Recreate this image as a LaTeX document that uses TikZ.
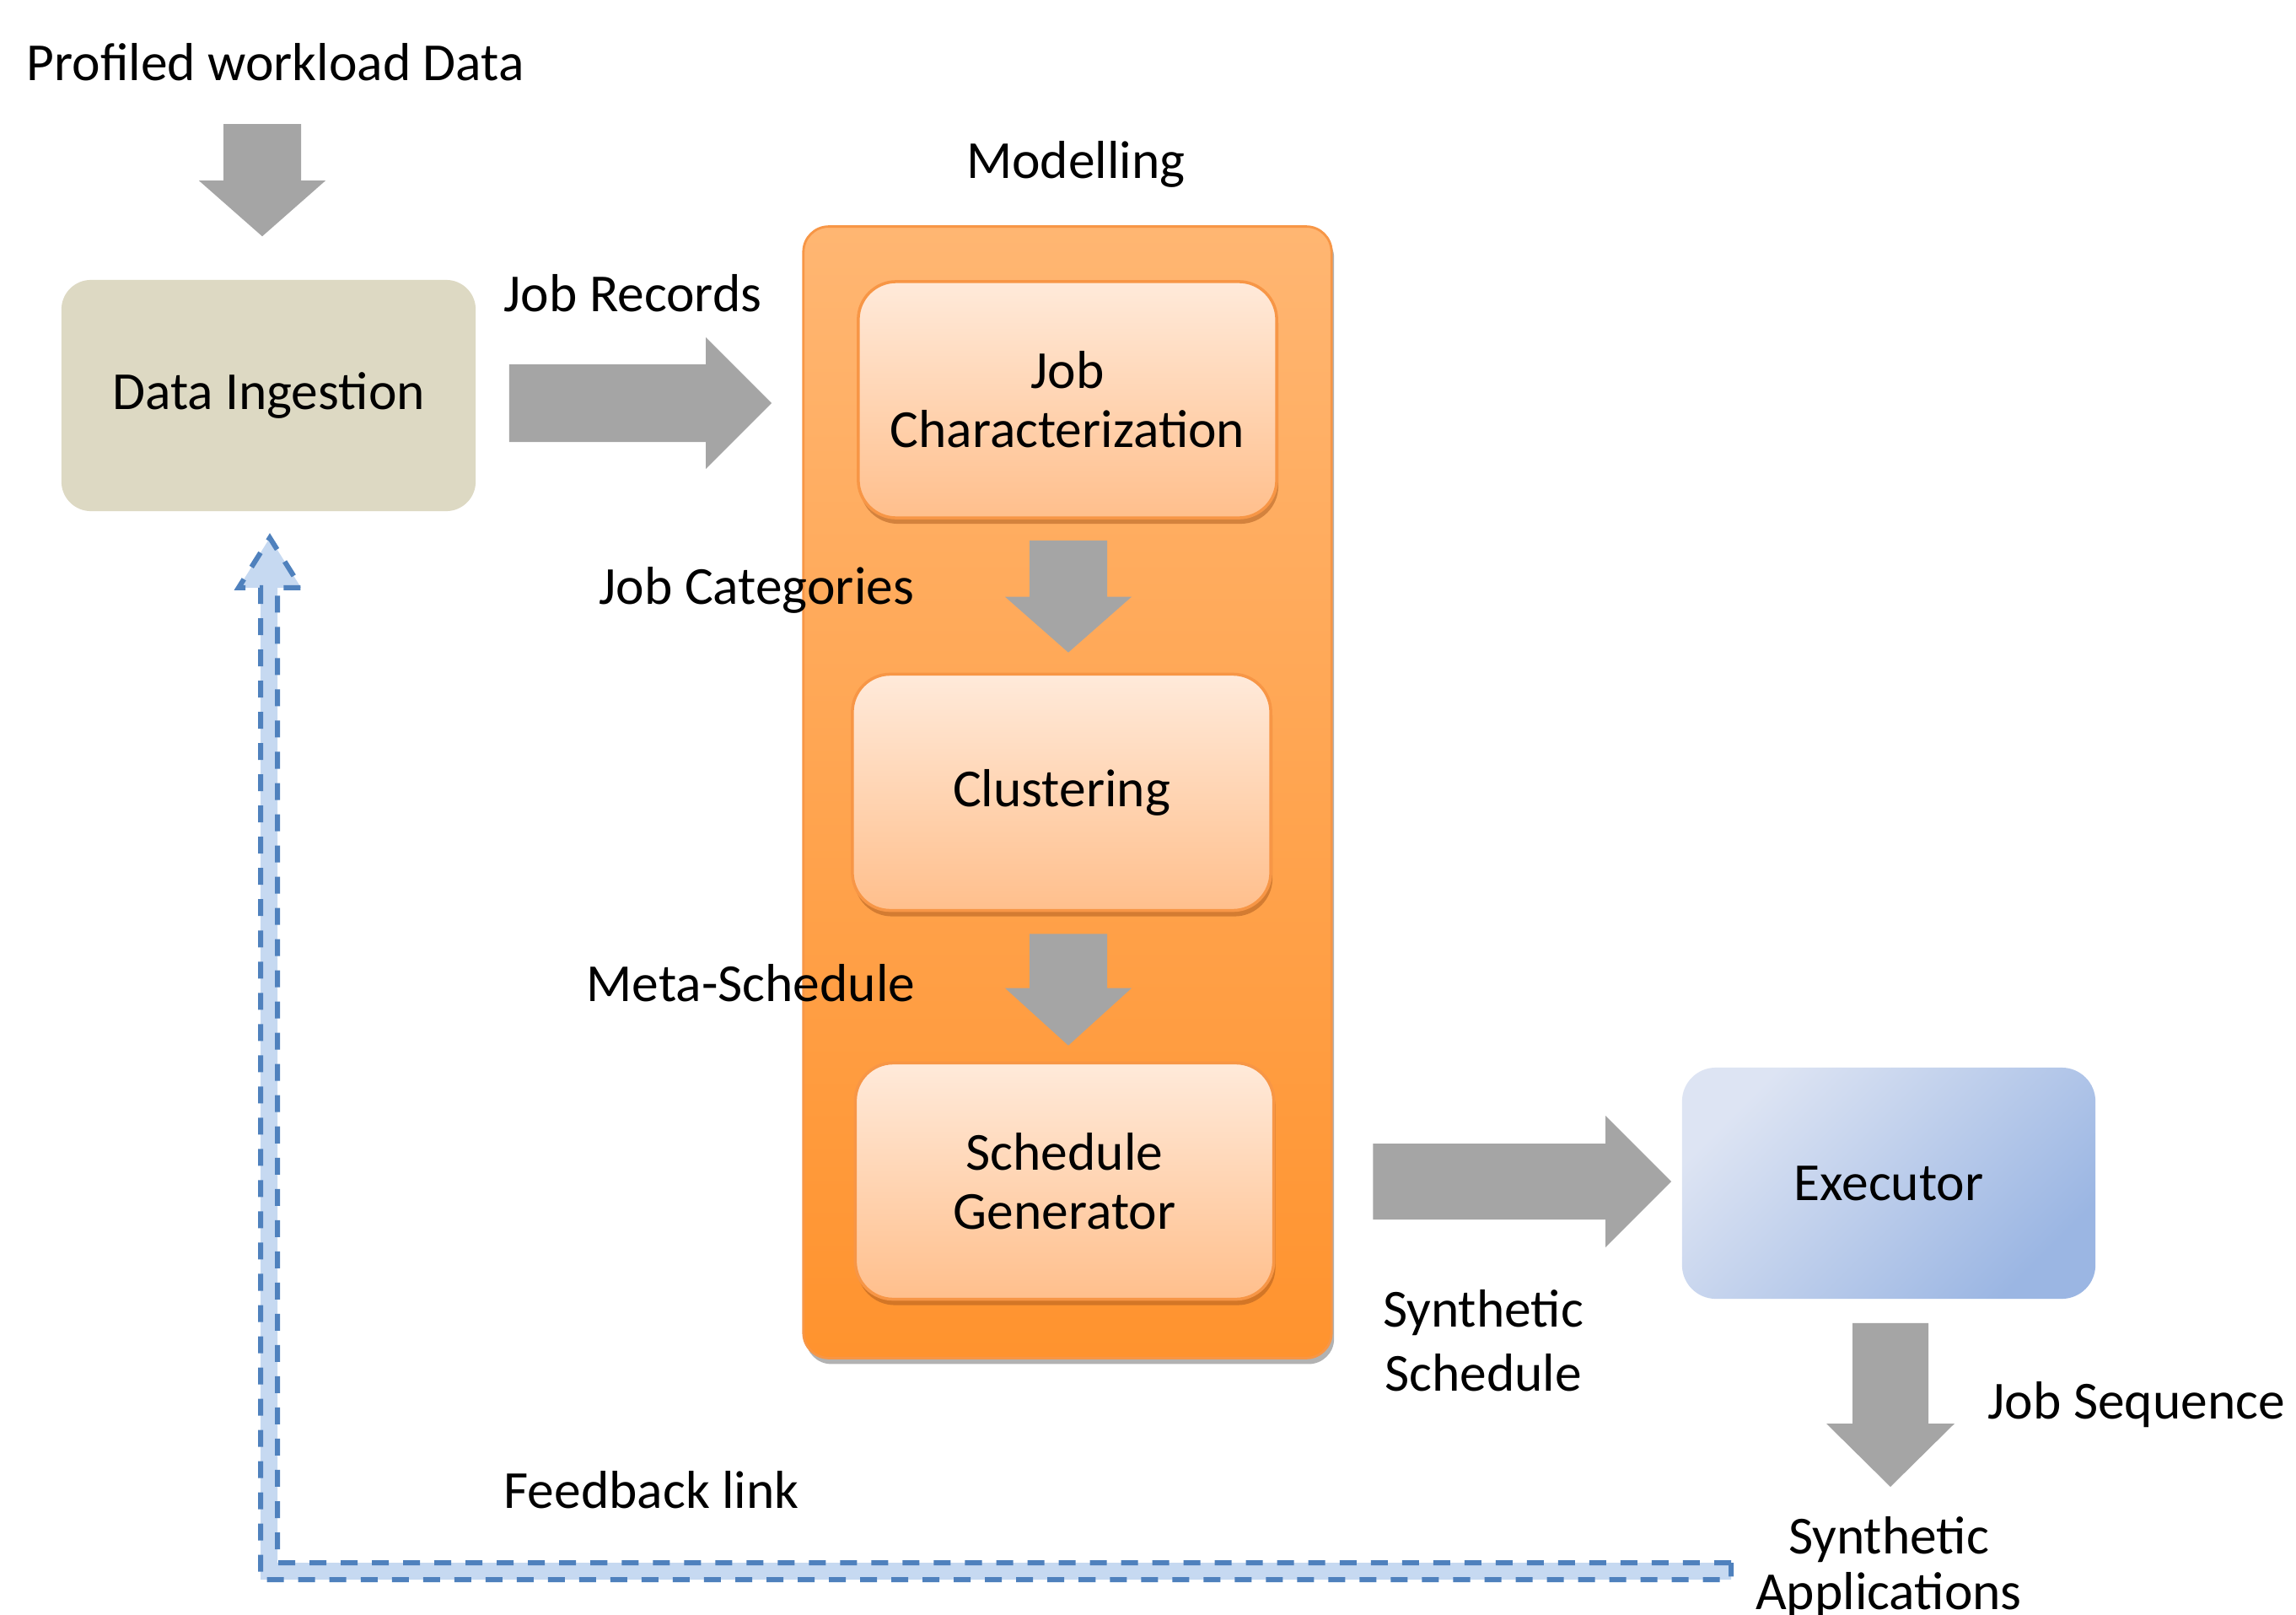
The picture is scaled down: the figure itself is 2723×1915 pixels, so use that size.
\documentclass[tikz,border=0pt]{standalone}
\usepackage{fontspec}
\setmainfont{Carlito}
\usetikzlibrary{calc,shadows}
\definecolor{arrowgray}{HTML}{A5A5A5}
\definecolor{ingest}{HTML}{DDD9C3}
\definecolor{orangeTop}{HTML}{FFB672}
\definecolor{orangeBot}{HTML}{FF932E}
\definecolor{orangeEdge}{HTML}{F79646}
\definecolor{peachTop}{HTML}{FFEADA}
\definecolor{peachBot}{HTML}{FFBF8C}
\definecolor{peachShadow}{HTML}{A8591C}
\definecolor{execTL}{HTML}{DDE4F3}
\definecolor{execBR}{HTML}{9BB6E3}
\definecolor{fbFill}{HTML}{C6D9F1}
\definecolor{fbLine}{HTML}{4F81BD}
\newcommand{\RightBlock}[5]{\fill[blockarrow] ($(#1)+(0,-#3)$) -- ($(#2)+(-#5,-#3)$) -- ($(#2)+(-#5,-#4)$) -- (#2) -- ($(#2)+(-#5,#4)$) -- ($(#2)+(-#5,#3)$) -- ($(#1)+(0,#3)$) -- cycle;}
\newcommand{\DownBlock}[5]{\fill[blockarrow] ($(#1)+(-#3,0)$) -- ($(#2)+(-#3,-#5)$) -- ($(#2)+(-#4,-#5)$) -- (#2) -- ($(#2)+(#4,-#5)$) -- ($(#2)+(#3,-#5)$) -- ($(#1)+(#3,0)$) -- cycle;}
\tikzset{
  txt/.style={inner sep=0pt, font=\fontsize{18.05}{21.4}\selectfont},
  blockarrow/.style={fill=arrowgray},
  ingestbox/.style={txt, fill=ingest, rounded corners=0.35cm, minimum width=4.91cm, minimum height=2.74cm},
  container/.style={top color=orangeTop, bottom color=orangeBot, draw=orangeEdge, line width=0.8pt,
     rounded corners=0.3cm, minimum width=6.26cm, minimum height=13.41cm,
     drop shadow={shadow xshift=0.03cm, shadow yshift=-0.07cm, fill=black, opacity=0.3}},
  stagebox/.style={txt, align=center, top color=peachTop, bottom color=peachBot, draw=orangeEdge, line width=1pt,
     rounded corners=0.45cm, minimum width=4.96cm, minimum height=2.8cm,
     drop shadow={shadow xshift=0.02cm, shadow yshift=-0.07cm, fill=peachShadow, opacity=0.5}},
  execbox/.style={txt, top color=execTL, bottom color=execBR, shading angle=45,
     rounded corners=0.4cm, minimum width=4.9cm, minimum height=2.74cm},
  feedback/.style={fill=fbFill, draw=fbLine, line width=0.06cm, dash pattern=on 0.2cm off 0.17cm, line join=miter},
}
\begin{document}
\begin{tikzpicture}[x=0.01cm, y=-0.01cm]
\useasboundingbox[fill=white] (0,0) rectangle (2723,1915);

% modelling container
\node[container] (model) at (1266,939.5) {};

% boxes
\node[ingestbox] (di) at (318.5,469) {Data Ingestion};
\node[stagebox, font=\fontsize{18.05}{19.8}\selectfont] (jc) at (1266,474) {Job\\Characterization};
\node[stagebox] (cl) at (1259,939.5) {Clustering};
\node[stagebox, font=\fontsize{18.05}{19.8}\selectfont] (sg) at (1262.5,1400.5) {Schedule\\Generator};
\node[execbox] (ex) at (2240,1403) {Executor};

% labels
\node[txt, anchor=base west] (title) at (31,95) {Profiled workload Data};
\node[txt, anchor=base west] (lrec) at (597,369) {Job Records};
\node[txt, anchor=base] (lmod) at (1276,211) {Modelling};
\node[txt, anchor=base west] (lcat) at (710,716) {Job Categories};
\node[txt, anchor=base west] (lmeta) at (695,1187) {Meta-Schedule};
\node[txt, align=center, font=\fontsize{18.05}{21.6}\selectfont] (lss) at (1759,1590) {Synthetic\\Schedule};
\node[txt, anchor=base west] (lseq) at (2357,1682) {Job Sequence};
\node[txt, align=center, anchor=north, font=\fontsize{18.05}{18.8}\selectfont] (sa) at (2240,1798) {Synthetic\\Applications};
\node[txt, anchor=base west] (lfb) at (597,1788) {Feedback link};

% block arrows
\coordinate (a0s) at ($(di.north)+(-7.5,-184)$);
\coordinate (a0e) at ($(di.north)+(-7.5,-51)$);
\DownBlock{a0s}{a0e}{46}{75}{66}
\coordinate (a1s) at ($(di.east)+(39,9)$);
\coordinate (a1e) at ($(jc.west)+(-101,4)$);
\RightBlock{a1s}{a1e}{46}{78}{78}
\coordinate (a2s) at ($(jc.south)+(1,25)$);
\coordinate (a2e) at ($(cl.north)+(8,-24)$);
\DownBlock{a2s}{a2e}{46}{75}{66}
\coordinate (a3s) at ($(cl.south)+(8,26)$);
\coordinate (a3e) at ($(sg.north)+(4.5,-19)$);
\DownBlock{a3s}{a3e}{46}{75}{68}
\coordinate (a4s) at ($(sg.east)+(116,0.5)$);
\coordinate (a4e) at ($(ex.west)+(-12,-2)$);
\RightBlock{a4s}{a4e}{45}{78}{78}
\coordinate (a5s) at ($(ex.south)+(2,28)$);
\coordinate (a5e) at ($(sa.north)+(2,-35)$);
\DownBlock{a5s}{a5e}{45}{76}{75}

% feedback link
\coordinate (fbtip) at ($(di.south)+(1.5,31)$);
\coordinate (fbend) at (2053,1863);
\draw[feedback] ($(fbend)+(0,-10)$) -- ($(fbtip |- fbend)+(9,-10)$) -- ($(fbtip)+(9,59)$)
  -- ($(fbtip)+(37,59)$) -- (fbtip) -- ($(fbtip)+(-37,59)$) -- ($(fbtip)+(-11,59)$)
  -- ($(fbtip |- fbend)+(-11,10)$) -- ($(fbend)+(0,10)$) -- cycle;
\end{tikzpicture}
\end{document}
